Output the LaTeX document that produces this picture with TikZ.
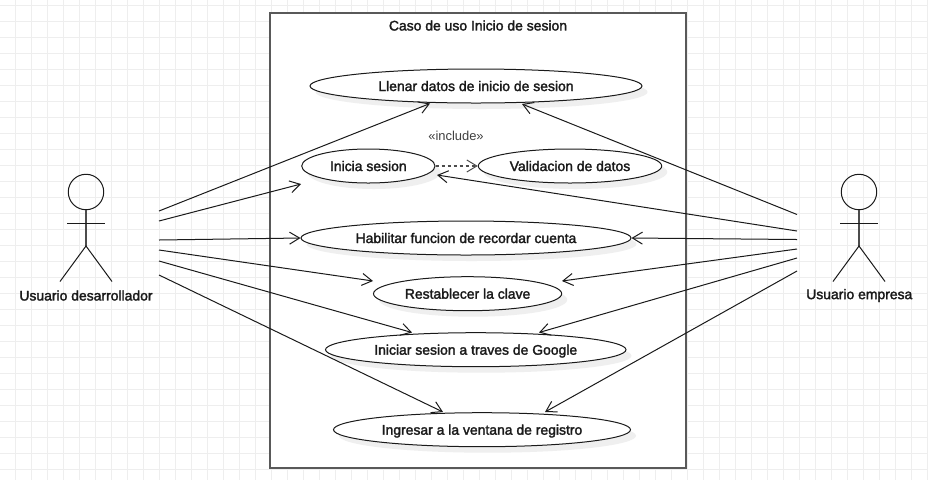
\documentclass[tikz,border=0pt]{standalone}
\usepackage{fontspec}
\setmainfont{Liberation Sans}
\newfontfamily\labelfont[FakeBold=2]{Liberation Sans}
\usetikzlibrary{arrows.meta,shapes.geometric}
\definecolor{gridc}{HTML}{EEEEEE}
\definecolor{shadowc}{HTML}{EFEFEF}
\definecolor{linec}{HTML}{1A1A1A}
\tikzset{
  x=0.75pt,y=-0.75pt,
  usecase/.style={ellipse,draw=linec,fill=white,line width=0.75pt,inner sep=0pt,text height=7.5pt,text depth=0pt,
    font=\labelfont\fontsize{10.45pt}{12pt}\selectfont,text=linec},
  frame/.style={draw=black!65,line width=0.9pt,fill=white},
  assoc/.style={draw=linec,line width=0.75pt,-{Straight Barb[length=7.5pt,width=9pt,line width=0.75pt]}},
  incl/.style={draw=black!70,line width=0.85pt,dash pattern=on 2.25pt off 2.25pt,-{Straight Barb[length=7.5pt,width=9pt,line width=0.75pt,sep=0pt]}},
  limb/.style={draw=linec,line width=0.75pt},
  actorlabel/.style={font=\labelfont\fontsize{10.45pt}{12pt}\selectfont,text=linec,inner sep=0pt},
}
\newcommand{\ucase}[6]{% name, x0, y0, x1, y1, text
  \fill[shadowc] ({(#2+#4)/2+5.5},{(#3+#5)/2+6}) ellipse [x radius={(#4-#2)/2*0.75pt},y radius={(#5-#3)/2*0.75pt}];
  \node[usecase,minimum width={(#4-#2)*0.75pt},minimum height={(#5-#3)*0.75pt}] (#1) at ({(#2+#4)/2},{(#3+#5)/2}) {#6};
}
\newcommand{\stick}[2]{% x, name prefix
  \node[circle,draw=linec,line width=0.75pt,minimum size=26.6pt,inner sep=0pt] (#2head) at (#1,192) {};
  \coordinate (#2hip) at (#1,246);
  \coordinate (#2armL) at ({#1-19},223);
  \coordinate (#2armR) at ({#1+19},223);
  \coordinate (#2footL) at ({#1-26},281.5);
  \coordinate (#2footR) at ({#1+26},281.5);
  \draw[draw=black!70,line width=1pt] (#2head.south) -- (#2hip);
  \draw[limb] (#2armL) -- (#2armR);
  \draw[limb] (#2footL) -- (#2hip) -- (#2footR);
}
\begin{document}
\begin{tikzpicture}
\useasboundingbox (0,0) rectangle (928,480);
\fill[white] (0,0) rectangle (928,480);
\foreach \i in {0,...,57} \draw[gridc,line width=0.75pt] ({15+16*\i},0) -- ({15+16*\i},480);
\foreach \i in {0,...,29} \draw[gridc,line width=0.75pt] (0,{5+16*\i}) -- (928,{5+16*\i});

\draw[frame] (270,13) rectangle (686,468);
\node[actorlabel,anchor=center] (title) at (478,25.5) {Caso de uso Inicio de sesion};

\ucase{llenar}{310}{69}{642}{103}{Llenar datos de inicio de sesion}
\ucase{inicia}{301.7}{149}{435}{183}{Inicia sesion}
\ucase{valida}{478.3}{149}{661.7}{183}{Validacion de datos}
\ucase{habil}{301}{221}{631}{255}{Habilitar funcion de recordar cuenta}
\ucase{rest}{373.5}{276.7}{561.7}{310.7}{Restablecer la clave}
\ucase{google}{325.5}{332.7}{626}{366.7}{Iniciar sesion a traves de Google}
\ucase{ingreso}{333.5}{412.7}{630.5}{446.7}{Ingresar a la ventana de registro}

\node[font=\fontsize{9.7pt}{11pt}\selectfont,text=black!75,inner sep=0pt] (incl) at (456,135.5) {«include»};

\stick{86}{dev}
\stick{859}{emp}
\node[actorlabel] (devlabel) at (86,295.5) {Usuario desarrollador};
\node[actorlabel] (emplabel) at (859.3,295.5) {Usuario empresa};

% free ends of the associations
\coordinate (d1) at (159,211);
\coordinate (d2) at (159,221);
\coordinate (d3) at (159,240);
\coordinate (d4) at (159,250);
\coordinate (d5) at (159,261);
\coordinate (d6) at (159,275);
\coordinate (e1) at (797,214.5);
\coordinate (e2) at (797,231);
\coordinate (e3) at (797,239.5);
\coordinate (e4) at (797,249);
\coordinate (e5) at (797,258);
\coordinate (e6) at (797,271);
\coordinate (t1) at (430,103.5);
\coordinate (t2) at (301,184);
\coordinate (t4) at (373,281);
\coordinate (t5) at (412,332.5);
\coordinate (t6) at (443,412);
\coordinate (u1) at (522,104);
\coordinate (u2) at (437,175);
\coordinate (u4) at (562,281);
\coordinate (u5) at (539,332.5);
\coordinate (u6) at (545,412);

\draw[assoc] (d1) -- (t1);
\draw[assoc] (d2) -- (t2);
\draw[assoc] (d3) -- (habil.west);
\draw[assoc] (d4) -- (t4);
\draw[assoc] (d5) -- (t5);
\draw[assoc] (d6) -- (t6);
\draw[assoc] (e1) -- (u1);
\draw[assoc] (e2) -- (u2);
\draw[assoc] (e3) -- (habil.east);
\draw[assoc] (e4) -- (u4);
\draw[assoc] (e5) -- (u5);
\draw[assoc] (e6) -- (u6);
\draw[incl] (inicia.east) -- (valida.west);
\end{tikzpicture}
\end{document}
